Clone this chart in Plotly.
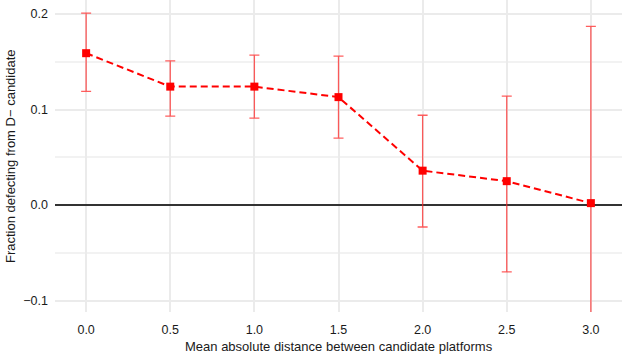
import plotly.graph_objects as go

x_vals = [0.0, 0.5, 1.0, 1.5, 2.0, 2.5, 3.0]
y_vals = [0.159, 0.124, 0.124, 0.113, 0.036, 0.025, 0.002]
y_upper = [0.201, 0.151, 0.157, 0.156, 0.094, 0.114, 0.187]
y_lower = [0.119, 0.093, 0.091, 0.070, -0.023, -0.070, -0.183]

x_ticks = [0.0, 0.5, 1.0, 1.5, 2.0, 2.5, 3.0]
x_ticklabels = ["0.0", "0.5", "1.0", "1.5", "2.0", "2.5", "3.0"]
y_ticks = [-0.1, 0.0, 0.1, 0.2]
y_ticklabels = ["\u22120.1", "0.0", "0.1", "0.2"]
y_minor = [-0.05, 0.05, 0.15]

x_title = "Mean absolute distance between candidate platforms"
y_title = "Fraction defecting from D\u2212 candidate"

FONT = "Liberation Sans, Arial, Helvetica, sans-serif"

fig = go.Figure()

fig.add_trace(go.Scatter(
    x=x_vals, y=y_vals,
    mode="lines+markers",
    line=dict(color="#ff0000", width=2, dash="7px,4px"),
    marker=dict(symbol="square", size=8, color="#ff0000"),
    error_y=dict(
        type="data", symmetric=False,
        array=[u - v for u, v in zip(y_upper, y_vals)],
        arrayminus=[v - l for v, l in zip(y_vals, y_lower)],
        color="rgba(255,40,40,0.75)", thickness=1.3, width=5,
    ),
    showlegend=False,
))

fig.update_layout(
    width=622, height=356,
    margin=dict(l=55, r=0, t=0, b=44),
    paper_bgcolor="white", plot_bgcolor="white",
    font=dict(family=FONT, size=12.5, color="#1a1a1a"),
    xaxis=dict(
        range=[-0.185, 3.185], automargin=False,
        tickvals=x_ticks, ticktext=x_ticklabels,
        showgrid=True, gridcolor="#ebebeb", gridwidth=1.5,
        zeroline=False, showline=False, ticks="", ticklabelstandoff=8,
        tickfont=dict(size=12.5, color="#1a1a1a"),
    ),
    yaxis=dict(
        range=[-0.112, 0.2147], automargin=False,
        tickvals=y_ticks, ticktext=y_ticklabels,
        showgrid=True, gridcolor="#ebebeb", gridwidth=1.5,
        minor=dict(tickvals=y_minor, showgrid=True, gridcolor="#f2f2f2", gridwidth=1.5),
        zeroline=True, zerolinecolor="#333333", zerolinewidth=2,
        showline=False, ticks="", ticklabelstandoff=6,
        tickfont=dict(size=12.5, color="#1a1a1a"),
    ),
    annotations=[
        dict(text=x_title, xref="paper", yref="paper",
             x=0.5, y=-(346 - 312) / 312,
             xanchor="center", yanchor="middle", showarrow=False,
             font=dict(family=FONT, size=13, color="#1a1a1a")),
        dict(text=y_title, xref="paper", yref="paper",
             x=-(55 - 10) / 567, y=0.5,
             xanchor="center", yanchor="middle", showarrow=False, textangle=-90,
             font=dict(family=FONT, size=13, color="#1a1a1a")),
    ],
)

fig.write_html("out.html", config={"displayModeBar": False},
               post_script="document.body.style.margin='0';")
